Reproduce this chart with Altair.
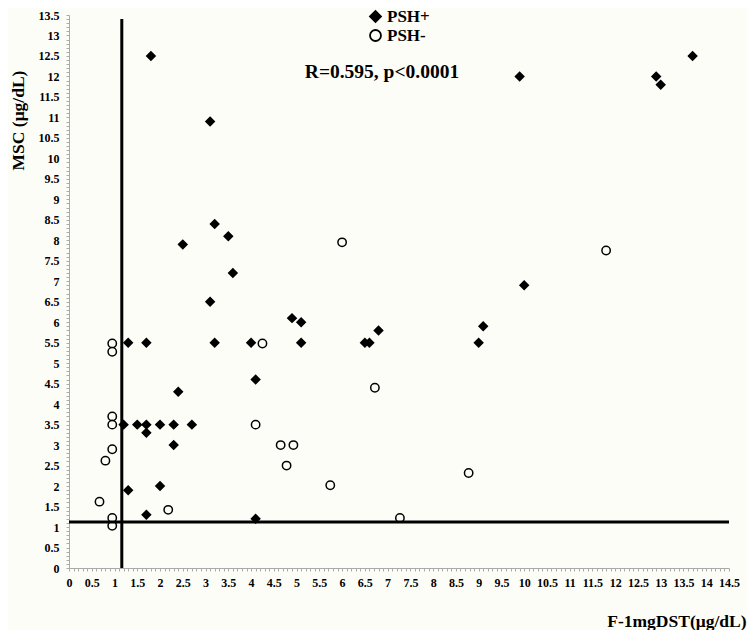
import altair as alt
import pandas as pd

# PSH+ (filled diamonds)
pos_x = [1.8, 3.1, 3.2, 3.5, 2.5, 3.6, 3.1, 9.9, 13.7, 12.9, 13.0, 10.0, 4.9, 5.1,
         1.3, 1.7, 3.2, 4.0, 5.1, 6.5, 6.6, 6.8, 9.0, 9.1, 4.1, 2.4,
         1.2, 1.5, 1.7, 2.0, 2.3, 2.7, 1.7, 2.3, 2.0, 1.3, 1.7, 4.1]
pos_y = [12.5, 10.9, 8.4, 8.1, 7.9, 7.2, 6.5, 12.0, 12.5, 12.0, 11.8, 6.9, 6.1, 6.0,
         5.5, 5.5, 5.5, 5.5, 5.5, 5.5, 5.5, 5.8, 5.5, 5.9, 4.6, 4.3,
         3.5, 3.5, 3.5, 3.5, 3.5, 3.5, 3.3, 3.0, 2.0, 1.9, 1.3, 1.2]

# PSH- (open circles)
neg_x = [6.0, 11.8, 4.25, 0.95, 0.95, 6.72, 0.95, 0.95, 4.1, 0.95, 4.65, 4.93,
         0.8, 4.78, 5.74, 0.67, 2.18, 0.95, 0.95, 8.78, 7.27]
neg_y = [7.95, 7.75, 5.48, 5.48, 5.28, 4.4, 3.7, 3.5, 3.5, 2.9, 3.0, 3.0,
         2.62, 2.5, 2.02, 1.62, 1.42, 1.22, 1.03, 2.32, 1.22]

groups = ["PSH+", "PSH-"]
cut_x = 1.16
cut_y = 1.12
annotation = "R=0.595, p<0.0001"

x_ticks = [round(i * 0.1, 1) for i in range(0, 146)]
y_ticks = [round(i * 0.1, 1) for i in range(0, 136)]

df = pd.DataFrame({
    "x": pos_x + neg_x,
    "y": pos_y + neg_y,
    "g": ["PSH+"] * len(pos_x) + ["PSH-"] * len(neg_x),
})

FONT = "Liberation Serif"
label_expr = "round(datum.value*10)%5==0 ? format(datum.value, '~g') : ''"

xs = alt.Scale(domain=[0, 14.5], nice=False, zero=False)
ys = alt.Scale(domain=[0, 13.5], nice=False, zero=False)

x_axis = alt.Axis(
    values=x_ticks, labelExpr=label_expr, labelOverlap=False, labelFlush=False, grid=False,
    title="F-1mgDST(μg/dL)", titleAnchor="end", titleAlign="right",
    titleX=677, titleY=58, titleBaseline="alphabetic",
    titleFontSize=17.5, titleFont=FONT, titleFontWeight="bold", titleColor="black",
    labelFont=FONT, labelFontWeight="bold", labelFontSize=12, labelColor="black",
    labelPadding=6, tickSize=3, tickColor="#aaaaaa", domainColor="#aaaaaa")
y_axis = alt.Axis(
    values=y_ticks, labelExpr=label_expr, labelOverlap=False, labelFlush=False, grid=False,
    title="MSC (μg/dL)", titleX=-42, titleY=105, titleAlign="center",
    titleFontSize=17.5, titleFont=FONT, titleFontWeight="bold", titleColor="black",
    labelFont=FONT, labelFontWeight="bold", labelFontSize=12, labelColor="black",
    labelPadding=7, tickSize=3, tickColor="#aaaaaa", domainColor="#aaaaaa")

leg = alt.Legend(title=None, orient="none", legendX=298, legendY=-7,
                 labelFont=FONT, labelFontWeight="bold", labelFontSize=17,
                 labelColor="black", symbolSize=120, symbolStrokeWidth=1.8,
                 rowPadding=0, labelOffset=3)

points = alt.Chart(df).mark_point(filled=True, strokeWidth=1.5, size=70, opacity=1).encode(
    x=alt.X("x:Q", scale=xs, axis=x_axis),
    y=alt.Y("y:Q", scale=ys, axis=y_axis),
    shape=alt.Shape("g:N", scale=alt.Scale(domain=groups, range=["diamond", "circle"]), legend=leg),
    fill=alt.Fill("g:N", scale=alt.Scale(domain=groups, range=["black", "#fdfdf8"]), legend=leg),
    stroke=alt.Stroke("g:N", scale=alt.Scale(domain=groups, range=["black", "black"]), legend=leg),
)

vline = alt.Chart(pd.DataFrame({"x": [cut_x], "y": [0], "y2": [13.4]})).mark_rule(
    color="black", strokeWidth=3).encode(
    x=alt.X("x:Q", scale=xs, axis=x_axis), y=alt.Y("y:Q", scale=ys, axis=y_axis), y2="y2:Q")
hline = alt.Chart(pd.DataFrame({"y": [cut_y], "x": [0], "x2": [14.5]})).mark_rule(
    color="black", strokeWidth=3).encode(
    y=alt.Y("y:Q", scale=ys, axis=y_axis), x=alt.X("x:Q", scale=xs, axis=x_axis), x2="x2:Q")

text = alt.Chart(pd.DataFrame({"t": [annotation]})).mark_text(
    font=FONT, fontWeight="bold", fontSize=19.5, color="black", align="center", baseline="alphabetic").encode(
    text="t:N", x=alt.value(313), y=alt.value(63))

chart = alt.layer(points, vline, hline, text).properties(
    width=660, height=553, background="#fdfdf8",
    autosize=alt.AutoSizeParams(type="none"),
    padding={"left": 61, "top": 7, "right": 18, "bottom": 62},
).configure_view(stroke=None)

chart.save("out.html", embed_options={"renderer": "svg", "actions": False})
